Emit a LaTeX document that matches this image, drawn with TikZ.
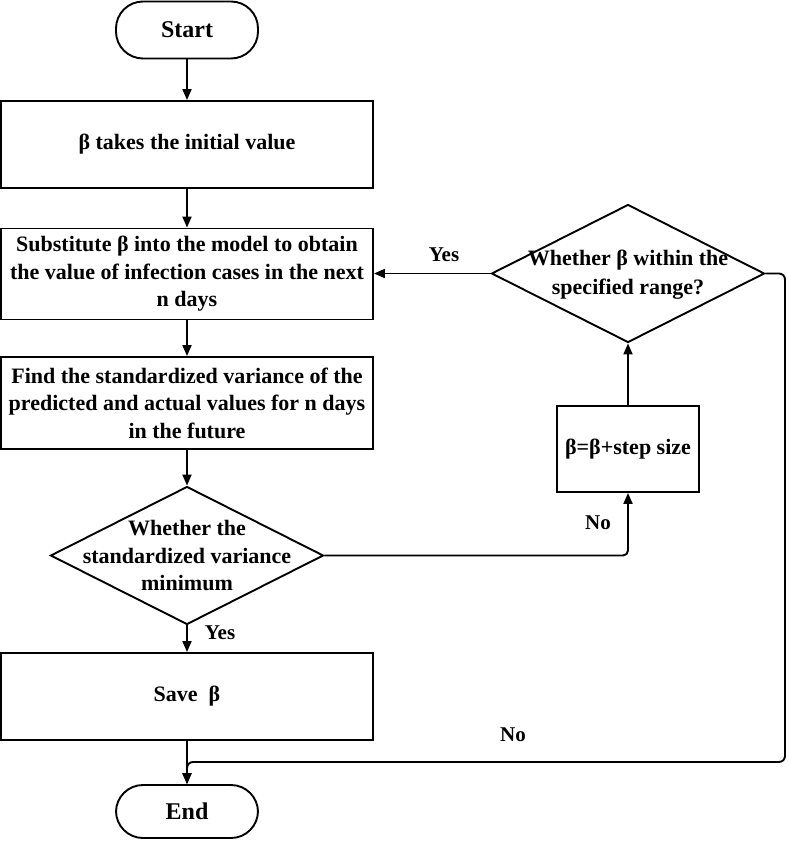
\documentclass[tikz,border=0pt]{standalone}
\usepackage{fontspec}
\setmainfont{Liberation Serif}
\usetikzlibrary{shapes.geometric,arrows.meta}
\begin{document}
\begin{tikzpicture}[x=1pt,y=-1pt,
  txt/.style={font=\fontsize{22}{27.5}\selectfont\bfseries,align=center,inner sep=0pt},
  lbl/.style={font=\fontsize{21}{25}\selectfont\bfseries,inner sep=0pt},
  shp/.style={draw,line width=1.9pt},
  box/.style={shp,txt,minimum width=372pt},
  term/.style={shp,txt,font=\fontsize{24}{28}\selectfont\bfseries,minimum width=142pt,rounded corners=27pt},
  dia/.style={shp,diamond,inner sep=0pt,minimum width=273pt,minimum height=138pt},
  arr/.style={line width=1.9pt,-{Triangle[length=11pt,width=9pt]}},
]
\useasboundingbox (0,0) rectangle (788,841);

\node[term,minimum height=57pt] (start) at (187,30) {Start};
\node[box,minimum height=87pt] (b1) at (187,144.5) {β takes the initial value};
\node[box,minimum height=91pt] (b2) at (187,274) {Substitute β into the model to obtain\\the value of infection cases in the next\\n days};
\node[box,minimum height=92pt] (b3) at (187,403) {Find the standardized variance of the\\predicted and actual values for n days\\in the future};
\node[dia] (d2) at (187,555.5) {};
\node[txt] at (d2) {Whether the\\standardized variance\\minimum};
\node[box,minimum height=87pt] (b4) at (187,696.5) {Save\ \ β};
\node[term,minimum height=53pt] (end) at (187,811.5) {End};

\node[dia] (d1) at (628,273.5) {};
\node[txt,font=\fontsize{22}{29}\selectfont\bfseries] at (628,275) {Whether β within the\\specified range?};
\node[shp,txt,minimum width=142pt,minimum height=86pt] (step) at (628,449) {β=β+step size};

\coordinate (rx) at (785,762);
\coordinate (m) at (187,762);

\draw[arr] (start) -- (b1);
\draw[arr] (b1) -- (b2);
\draw[arr] (b2) -- (b3);
\draw[arr] (b3) -- (d2.north);
\draw[arr] (d2.south) -- (b4);
\draw[arr] (b4) -- (end);
\draw[arr,rounded corners=5pt] (d2.east) -| (step.south);
\draw[arr] (step.north) -- (d1.south);
\draw[arr] (d1.west) -- (b2.east |- d1.west);
\draw[arr,rounded corners=6pt] (d1.east) -| (rx) -- (m) -- (end.north);

\node[lbl] at (444,255) {Yes};
\node[lbl] at (220,633) {Yes};
\node[lbl] at (598,523) {No};
\node[lbl] at (513,735) {No};
\end{tikzpicture}
\end{document}
